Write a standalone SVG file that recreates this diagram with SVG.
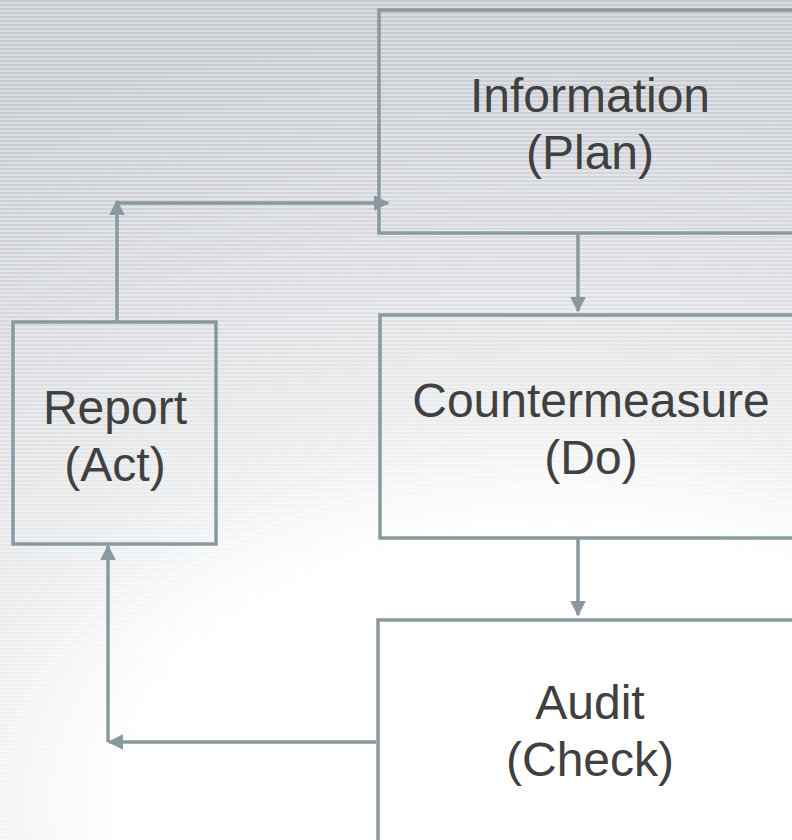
<svg xmlns="http://www.w3.org/2000/svg" width="792" height="840" viewBox="0 0 792 840">
  <style>
    .box { fill: none; stroke: #889aa0; stroke-width: 3.5; }
    .link { fill: none; stroke: #889aa0; stroke-width: 3.5; }
    .label { font-family: "Liberation Sans", Arial, sans-serif; font-size: 48px; fill: #404040; text-anchor: middle; }
  </style>
  <defs>
    <radialGradient id="bgGlow" gradientUnits="userSpaceOnUse" cx="560" cy="800" r="800" gradientTransform="translate(560 800) scale(1.6 1) translate(-560 -800)">
      <stop offset="0" stop-color="#ffffff"/>
      <stop offset="0.34" stop-color="#ffffff"/>
      <stop offset="0.48" stop-color="#f1f2f3"/>
      <stop offset="0.72" stop-color="#e5e7ea"/>
      <stop offset="1" stop-color="#d9dcdf"/>
    </radialGradient>
    <radialGradient id="stripeFade" gradientUnits="userSpaceOnUse" cx="560" cy="800" r="800" gradientTransform="translate(560 800) scale(1.6 1) translate(-560 -800)">
      <stop offset="0" stop-color="#000"/>
      <stop offset="0.37" stop-color="#000"/>
      <stop offset="0.62" stop-color="#666"/>
      <stop offset="0.95" stop-color="#fff"/>
    </radialGradient>
    <mask id="stripeMask">
      <rect width="792" height="840" fill="url(#stripeFade)"/>
    </mask>
    <pattern id="stripes" width="8" height="4" patternUnits="userSpaceOnUse">
      <rect width="8" height="2" fill="#a9b0b7" fill-opacity="0.4"/>
    </pattern>
    <marker id="arrow" viewBox="0 0 10 10" refX="9" refY="5" markerWidth="16" markerHeight="16" markerUnits="userSpaceOnUse" orient="auto">
      <path d="M0,0 L10,5 L0,10 Z" fill="#889aa0"/>
    </marker>
  </defs>

  <!-- backdrop: soft glow with horizontal ruling that fades toward the lower centre -->
  <rect width="792" height="840" fill="url(#bgGlow)"/>
  <rect width="792" height="840" fill="url(#stripes)" mask="url(#stripeMask)"/>

  <g id="connectors">
    <!-- Report up, then across to Information -->
    <path class="link" d="M117,322 V201" marker-end="url(#arrow)"/>
    <path class="link" d="M117,203 H388" marker-end="url(#arrow)"/>
    <!-- Information down to Countermeasure -->
    <path class="link" d="M578,233 V311" marker-end="url(#arrow)"/>
    <!-- Countermeasure down to Audit -->
    <path class="link" d="M578,538 V615" marker-end="url(#arrow)"/>
    <!-- Audit left, then up to Report -->
    <path class="link" d="M376,742 H109" marker-end="url(#arrow)"/>
    <path class="link" d="M108,742 V546" marker-end="url(#arrow)"/>
  </g>

  <g id="information">
    <rect class="box" x="379" y="10" width="440" height="223"/>
    <text class="label" x="590" y="112">Information</text>
    <text class="label" x="590" y="169">(Plan)</text>
  </g>

  <g id="countermeasure">
    <rect class="box" x="380" y="315" width="440" height="223"/>
    <text class="label" x="591" y="417">Countermeasure</text>
    <text class="label" x="591" y="474">(Do)</text>
  </g>

  <g id="audit">
    <rect class="box" x="378" y="620" width="440" height="240"/>
    <text class="label" x="590" y="719">Audit</text>
    <text class="label" x="590" y="776">(Check)</text>
  </g>

  <g id="report">
    <rect class="box" x="13" y="322" width="203" height="222"/>
    <text class="label" x="115" y="424">Report</text>
    <text class="label" x="115" y="481">(Act)</text>
  </g>
</svg>
